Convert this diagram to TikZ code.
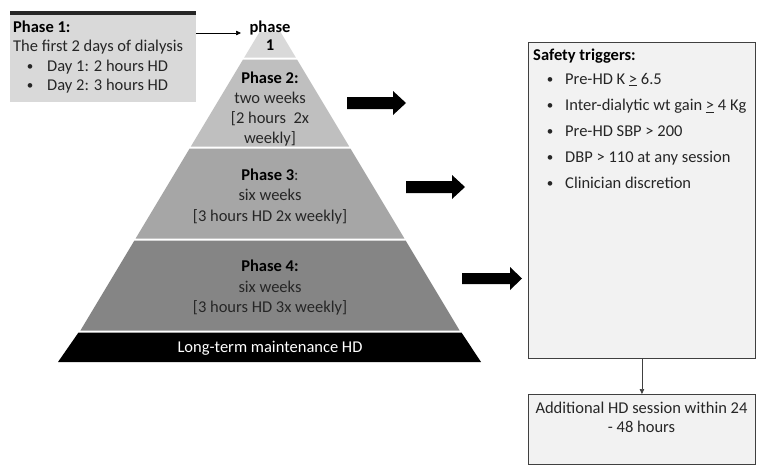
\documentclass[tikz,border=0pt]{standalone}
\usepackage{fontspec}
\setmainfont{Carlito}
\usetikzlibrary{arrows.meta}
\definecolor{txt}{HTML}{262626}
\definecolor{pA}{HTML}{D9D9D9}
\definecolor{pB}{HTML}{BFBFBF}
\definecolor{pC}{HTML}{A6A6A6}
\definecolor{pD}{HTML}{858585}
\definecolor{boxfill}{HTML}{F2F2F2}
\definecolor{boxline}{HTML}{404040}
\tikzset{
  lbl/.style={inner sep=0pt, font=\fontsize{16.5}{19.5}\selectfont, text=txt},
  blbl/.style={lbl, font=\fontsize{16.5}{19.5}\selectfont\bfseries, text=black},
  bul/.style={inner sep=0pt, font=\fontsize{13}{15}\selectfont, text=txt},
  blockarrow/.style={fill=black, draw=none},
  tbox/.style={draw=boxline, line width=0.9pt, fill=boxfill, inner sep=0pt},
}
\begin{document}
\begin{tikzpicture}[x=1pt,y=-1pt]
\useasboundingbox (0,0) rectangle (763,472);
% Phase 1 box
\node[fill=pA, inner sep=0pt, minimum width=186pt, minimum height=89pt, anchor=north west] (p1box) at (10,13) {};
\fill[black!85] (10,11) rectangle (196,15);
\node[blbl, anchor=base west] (p1t) at (13,32) {Phase 1:};
\node[lbl, anchor=base west] (p1a) at (13,51) {The first 2 days of dialysis};
\node[bul, anchor=base] (p1b1) at (30,70) {•};
\node[lbl, anchor=base west] (p1b) at (47,71) {Day 1: 2 hours HD};
\node[bul, anchor=base] (p1c1) at (30,89) {•};
\node[lbl, anchor=base west] (p1c) at (47,90) {Day 2: 3 hours HD};
% Pyramid layers
\fill[pA] (259.5,32) -- (280.5,32) -- (295.8,57.5) -- (244.2,57.5) -- cycle;
\fill[pB] (243,59.5) -- (297,59.5) -- (349.2,146.5) -- (190.8,146.5) -- cycle;
\fill[pC] (189.6,148.5) -- (350.4,148.5) -- (404.4,238.5) -- (135.6,238.5) -- cycle;
\fill[pD] (134.4,240.5) -- (405.6,240.5) -- (459.6,330.5) -- (80.4,330.5) -- cycle;
\fill[black] (78.5,332.5) -- (461.5,332.5) -- (481,362) -- (58,362) -- cycle;
% Pyramid texts
\node[blbl, anchor=base] (ph1a) at (270,32) {phase};
\node[blbl, anchor=base] (ph1b) at (270,50) {1};
\node[blbl, anchor=base] (ph2a) at (270,83) {Phase 2:};
\node[lbl, anchor=base] (ph2b) at (270,103) {two weeks};
\node[lbl, anchor=base] (ph2c) at (270,123) {[2 hours\ \ 2x};
\node[lbl, anchor=base] (ph2d) at (270,143) {weekly]};
\node[lbl, anchor=base] (ph3a) at (270,180) {\textbf{\color{black}Phase 3}:};
\node[lbl, anchor=base] (ph3b) at (270,200) {six weeks};
\node[lbl, anchor=base] (ph3c) at (270,221) {[3 hours HD 2x weekly]};
\node[blbl, anchor=base] (ph4a) at (270,271) {Phase 4:};
\node[lbl, anchor=base] (ph4b) at (270,292) {six weeks};
\node[lbl, anchor=base] (ph4c) at (270,312) {[3 hours HD 3x weekly]};
\node[lbl, anchor=base, text=white] (lt) at (270,352) {Long-term maintenance HD};
% connector phase 1 box -> top label
\coordinate (p1end) at (241,33);
\draw[-{Triangle[length=5pt,width=4.5pt]}, line width=0.6pt] (p1box.east |- p1end) -- (p1end);
% block arrows
\fill[blockarrow] (347,97) -- (393,97) -- (393,91) -- (406,103) -- (393,115) -- (393,109) -- (347,109) -- cycle;
\fill[blockarrow] (406,181) -- (452,181) -- (452,175) -- (465,187) -- (452,199) -- (452,193) -- (406,193) -- cycle;
\fill[blockarrow] (462,273) -- (510,273) -- (510,267) -- (522,278.5) -- (510,290) -- (510,284) -- (462,284) -- cycle;
% safety box
\node[tbox, minimum width=227pt, minimum height=316pt, anchor=north west] (safety) at (528,42) {};
\node[blbl, anchor=base west] (st) at (533,60) {Safety triggers:};
\foreach \yy/\tt [count=\i] in {84/{Pre-HD K \underline{>} 6.5},110.5/{Inter-dialytic wt gain \underline{>} 4 Kg},136/{Pre-HD SBP > 200},162/{DBP > 110 at any session},188/{Clinician discretion}}{
  \node[bul, anchor=base] (sb\i) at (550,\yy-1) {•};
  \node[lbl, anchor=base west] (s\i) at (565,\yy) {\tt};
}
% additional box
\node[tbox, minimum width=227pt, minimum height=70pt, anchor=north west] (addl) at (528,394) {};
\node[lbl, anchor=base] (a1) at (641.5,413) {Additional HD session within 24};
\node[lbl, anchor=base] (a2) at (641.5,432) {- 48 hours};
\draw[-{Triangle[length=5pt,width=4.5pt]}, line width=0.6pt, draw=boxline] (safety.south) -- (addl.north);
\end{tikzpicture}
\end{document}
